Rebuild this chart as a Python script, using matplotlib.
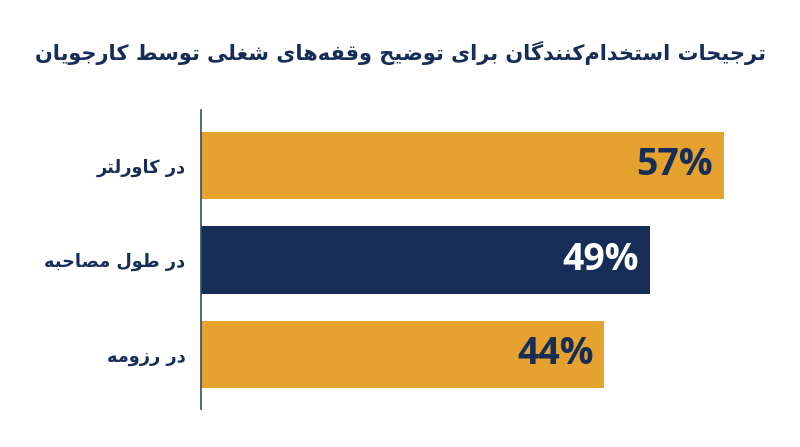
import matplotlib
matplotlib.use("Agg")
import matplotlib.pyplot as plt

# data
categories = ["در کاورلتر", "در طول مصاحبه", "در رزومه"]
values = [57, 49, 44]
bar_colors = ["#E5A22E", "#162E57", "#E5A22E"]
label_colors = ["#162E57", "#FFFFFF", "#162E57"]
title = "ترجیحات استخدام\u200cکنندگان برای توضیح وقفه\u200cهای شغلی توسط کارجویان"

NAVY = "#162E57"

# minimal persian shaping (matplotlib 3.10 has no complex text layout)
# letter: (isolated, final, initial, medial); right-joining letters have only 2 forms
FORMS = {
    "ا": (0xFE8D, 0xFE8E), "د": (0xFEA9, 0xFEAA), "ذ": (0xFEAB, 0xFEAC),
    "ر": (0xFEAD, 0xFEAE), "ز": (0xFEAF, 0xFEB0), "ژ": (0xFB8A, 0xFB8B),
    "و": (0xFEED, 0xFEEE),
    "ب": (0xFE8F, 0xFE90, 0xFE91, 0xFE92), "پ": (0xFB56, 0xFB57, 0xFB58, 0xFB59),
    "ت": (0xFE95, 0xFE96, 0xFE97, 0xFE98), "ث": (0xFE99, 0xFE9A, 0xFE9B, 0xFE9C),
    "ج": (0xFE9D, 0xFE9E, 0xFE9F, 0xFEA0), "چ": (0xFB7A, 0xFB7B, 0xFB7C, 0xFB7D),
    "ح": (0xFEA1, 0xFEA2, 0xFEA3, 0xFEA4), "خ": (0xFEA5, 0xFEA6, 0xFEA7, 0xFEA8),
    "س": (0xFEB1, 0xFEB2, 0xFEB3, 0xFEB4), "ش": (0xFEB5, 0xFEB6, 0xFEB7, 0xFEB8),
    "ص": (0xFEB9, 0xFEBA, 0xFEBB, 0xFEBC), "ض": (0xFEBD, 0xFEBE, 0xFEBF, 0xFEC0),
    "ط": (0xFEC1, 0xFEC2, 0xFEC3, 0xFEC4), "ظ": (0xFEC5, 0xFEC6, 0xFEC7, 0xFEC8),
    "ع": (0xFEC9, 0xFECA, 0xFECB, 0xFECC), "غ": (0xFECD, 0xFECE, 0xFECF, 0xFED0),
    "ف": (0xFED1, 0xFED2, 0xFED3, 0xFED4), "ق": (0xFED5, 0xFED6, 0xFED7, 0xFED8),
    "ک": (0xFB8E, 0xFB8F, 0xFB90, 0xFB91), "گ": (0xFB92, 0xFB93, 0xFB94, 0xFB95),
    "ل": (0xFEDD, 0xFEDE, 0xFEDF, 0xFEE0), "م": (0xFEE1, 0xFEE2, 0xFEE3, 0xFEE4),
    "ن": (0xFEE5, 0xFEE6, 0xFEE7, 0xFEE8), "ه": (0xFEE9, 0xFEEA, 0xFEEB, 0xFEEC),
    "ی": (0xFBFC, 0xFBFD, 0xFBFE, 0xFBFF),
}


def shape(text):
    out = []
    n = len(text)
    for i, ch in enumerate(text):
        if ch not in FORMS:
            if ch != "\u200c":
                out.append(ch)
            continue
        f = FORMS[ch]
        prev = text[i - 1] if i > 0 else ""
        nxt = text[i + 1] if i < n - 1 else ""
        join_prev = prev in FORMS and len(FORMS[prev]) == 4
        join_next = len(f) == 4 and nxt in FORMS
        if join_prev and join_next:
            code = f[3]
        elif join_prev:
            code = f[1]
        elif join_next:
            code = f[2]
        else:
            code = f[0]
        out.append(chr(code))
    return "".join(out)[::-1]


fig = plt.figure(figsize=(8, 4.47), dpi=100)
ax = fig.add_axes([0.251, 0.085, 0.70, 0.669])

y = list(range(len(values)))
ax.barh(y, values, height=0.71, color=bar_colors)
ax.set_ylim(2.577, -0.587)
ax.set_xlim(0, 61.04)

for yi, v, c in zip(y, values, label_colors):
    ax.text(v - 1.2, yi, f"{v}%", ha="right", va="center", color=c,
            fontsize=27, fontweight="bold", family="Open Sans")

ax.set_yticks(y)
ax.set_yticklabels([shape(c) for c in categories], fontsize=12.8,
                   fontweight="bold", color=NAVY, family="DejaVu Sans")
ax.tick_params(axis="y", length=0, pad=11)
ax.set_xticks([])
for s in ["top", "right", "bottom"]:
    ax.spines[s].set_visible(False)
ax.spines["left"].set_color("#3a4a66")
ax.spines["left"].set_linewidth(1.2)

fig.text(0.5, 0.881, shape(title), ha="center", va="center", fontsize=15,
         fontweight="bold", color=NAVY, family="DejaVu Sans")

fig.savefig("out.png", dpi=100)
